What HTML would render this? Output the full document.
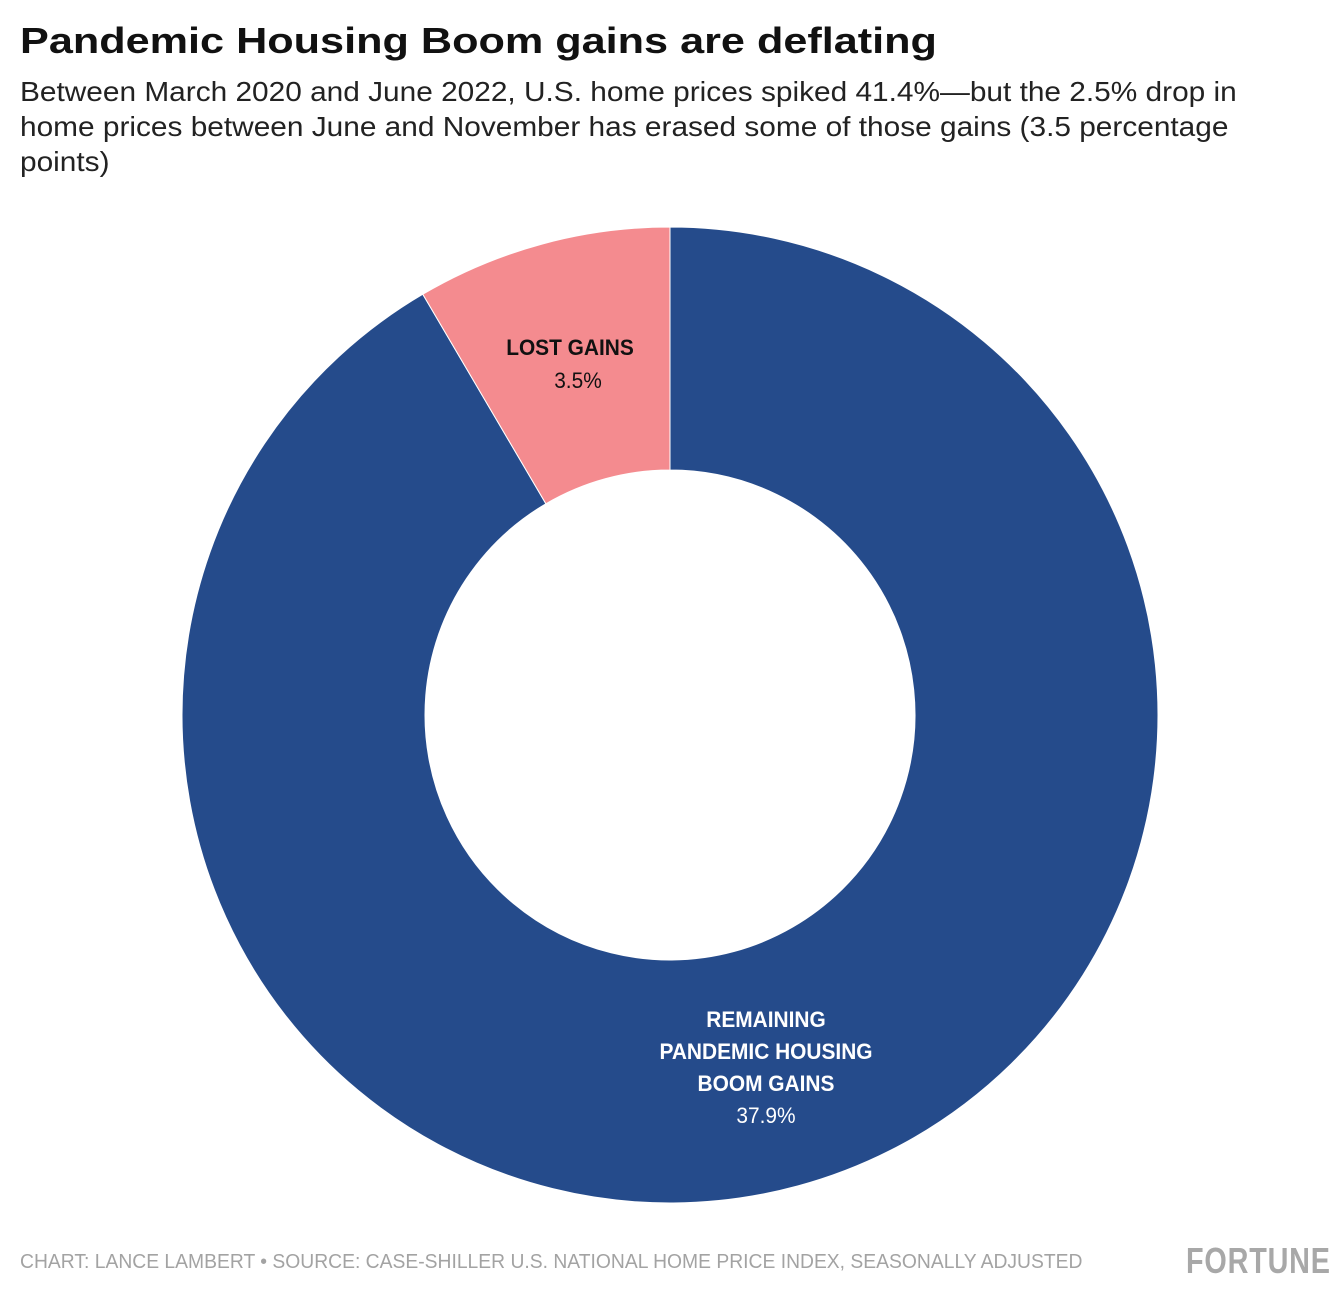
<!DOCTYPE html>
<html><head><meta charset="utf-8"><style>
body{margin:0;width:1340px;height:1304px;background:#fff;font-family:"Liberation Sans",sans-serif;position:relative;overflow:hidden}
#title{position:absolute;left:20px;top:20px;font-size:36px;font-weight:bold;color:#111;margin:0;transform:scaleX(1.2);transform-origin:left;white-space:nowrap}
#sub{position:absolute;left:20px;top:74px;width:1300px;font-size:28px;line-height:35px;color:#222;white-space:nowrap;transform:scaleX(1.065);transform-origin:left}
#foot{position:absolute;left:20px;top:1251px;font-size:20px;color:#a3a3a3;transform:scaleX(0.965);transform-origin:left;white-space:nowrap}
#logo{position:absolute;left:1186px;top:1240px;font-size:36px;font-weight:bold;color:#a8a8a8;transform:scaleX(0.8);transform-origin:left;letter-spacing:1px}
svg{position:absolute;left:0;top:0}
</style></head><body>
<h1 id="title">Pandemic Housing Boom gains are deflating</h1>
<div id="sub">Between March 2020 and June 2022, U.S. home prices spiked 41.4%—but the 2.5% drop in<br>home prices between June and November has erased some of those gains (3.5 percentage<br>points)</div>
<svg id="chart" width="1340" height="1304"></svg>
<div id="foot">CHART: LANCE LAMBERT • SOURCE: CASE-SHILLER U.S. NATIONAL HOME PRICE INDEX, SEASONALLY ADJUSTED</div>
<div id="logo">FORTUNE</div>
<script>
const categories=["REMAINING PANDEMIC HOUSING BOOM GAINS","LOST GAINS"];
const values=[37.9,3.5];
const labels=["37.9%","3.5%"];
const colors=["#254b8b","#f48b8f"];
const cx=670,cy=715,R=488,r=245;
const svg=document.getElementById('chart');
const NS="http://www.w3.org/2000/svg";
const total=values.reduce((a,b)=>a+b,0);
let a=0;
function pt(rad,ang){return [cx+rad*Math.sin(ang),cy-rad*Math.cos(ang)];}
values.forEach((v,i)=>{
  const a0=a,a1=a+v/total*2*Math.PI;a=a1;
  const large=(a1-a0)>Math.PI?1:0;
  const [x0,y0]=pt(R,a0),[x1,y1]=pt(R,a1),[x2,y2]=pt(r,a1),[x3,y3]=pt(r,a0);
  const p=document.createElementNS(NS,'path');
  p.setAttribute('d',`M${x0},${y0}A${R},${R} 0 ${large} 1 ${x1},${y1}L${x2},${y2}A${r},${r} 0 ${large} 0 ${x3},${y3}Z`);
  p.setAttribute('fill',colors[i]);p.setAttribute('stroke','#fff');p.setAttribute('stroke-width','1');
  
  
  svg.appendChild(p);
});
function txt(x,y,s,fill,bold,name){
  const t=document.createElementNS(NS,'text');
  t.setAttribute('x',x);t.setAttribute('y',y);t.setAttribute('text-anchor','middle');
  t.setAttribute('font-size','22');t.setAttribute('fill',fill);
  t.setAttribute('font-family','Liberation Sans, sans-serif');
  if(bold)t.setAttribute('font-weight','bold');
  t.setAttribute('transform',`translate(${x},0) scale(0.95,1) translate(${-x},0)`);
  t.textContent=s;
  
  
  svg.appendChild(t);
}
txt(766,1027,"REMAINING","#fff",true,'label-remaining');
txt(766,1059,"PANDEMIC HOUSING","#fff",true,'label-remaining');
txt(766,1091,"BOOM GAINS","#fff",true,'label-remaining');
txt(766,1123,labels[0],"#fff",false,'value-remaining');
txt(570,355,categories[1],"#111",true,'label-lost');
txt(578,388,labels[1],"#111",false,'value-lost');
</script>
</body></html>
